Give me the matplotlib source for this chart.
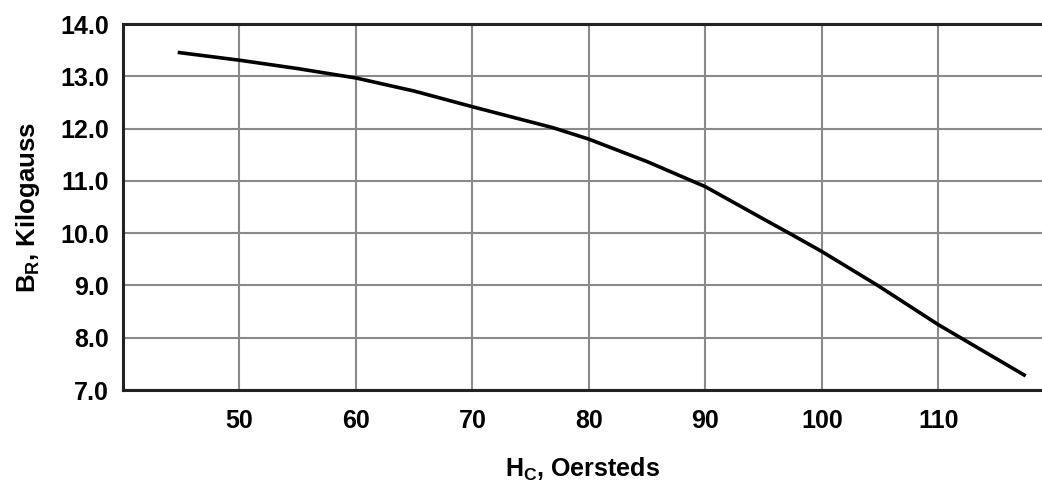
import matplotlib
matplotlib.use("Agg")
import matplotlib.pyplot as plt

# values
hc_oersteds = [44.7, 50, 55, 60, 65, 70, 76.9, 80, 85, 90, 95, 97.2, 100, 104.8, 110, 117.5]
br_kilogauss = [13.46, 13.31, 13.15, 12.97, 12.72, 12.42, 12.02, 11.8, 11.37, 10.89, 10.27, 10.0, 9.65, 9.0, 8.25, 7.27]

x_ticks = [50, 60, 70, 80, 90, 100, 110]
y_ticks = [7.0, 8.0, 9.0, 10.0, 11.0, 12.0, 13.0, 14.0]

plt.rcParams['font.family'] = ['Liberation Sans', 'DejaVu Sans']

fig = plt.figure(figsize=(10.42, 4.83), dpi=100)
ax = fig.add_axes([0.118, 0.1925, 0.882, 0.7575])

ax.plot(hc_oersteds, br_kilogauss, color="black", lw=2.6, solid_capstyle="butt",
        solid_joinstyle="round")

ax.set_xlim(40, 118.9)
ax.set_ylim(7.0, 14.0)
ax.set_xticks(x_ticks)
ax.set_yticks(y_ticks)
ax.set_yticklabels(["%.1f" % v for v in y_ticks])
ax.grid(True, color="#8a8a8a", lw=1.5)
ax.set_axisbelow(True)

ax.tick_params(axis="both", length=0, labelsize=18)
ax.tick_params(axis="x", pad=14)
ax.tick_params(axis="y", pad=10)
for lab in ax.get_xticklabels() + ax.get_yticklabels():
    lab.set_fontweight("bold")

for side in ["left", "bottom", "top"]:
    ax.spines[side].set_linewidth(2.2)
    ax.spines[side].set_color("#222222")
ax.spines["right"].set_visible(False)

ax.set_xlabel("H$_\\mathregular{C}$, Oersteds", fontsize=18, fontweight="bold")
ax.set_ylabel("B$_\\mathregular{R}$, Kilogauss", fontsize=18.5, fontweight="bold")
ax.xaxis.set_label_coords(0.5, -0.18)
ax.yaxis.set_label_coords(-0.088, 0.5)

fig.savefig("out.png", dpi=100)
